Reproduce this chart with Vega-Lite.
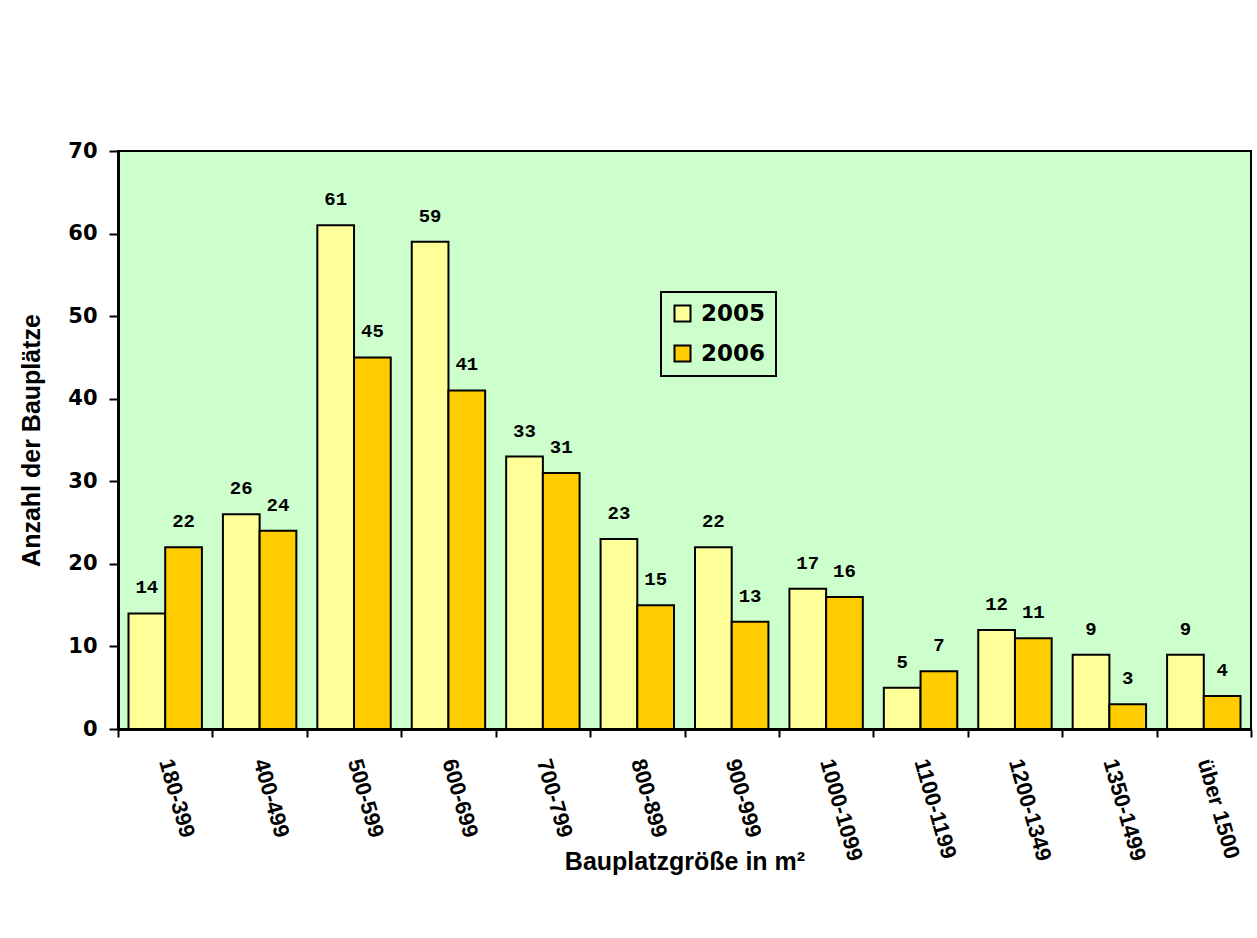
{
  "$schema": "https://vega.github.io/schema/vega-lite/v6.json",
  "autosize": {"type": "none"},
  "width": 1133,
  "height": 578,
  "padding": {"left": 118, "top": 151, "right": 6, "bottom": 209},
  "background": "white",
  "data": {
    "values": [
      {"groesse": "180-399", "jahr": "2005", "anzahl": 14},
      {"groesse": "180-399", "jahr": "2006", "anzahl": 22},
      {"groesse": "400-499", "jahr": "2005", "anzahl": 26},
      {"groesse": "400-499", "jahr": "2006", "anzahl": 24},
      {"groesse": "500-599", "jahr": "2005", "anzahl": 61},
      {"groesse": "500-599", "jahr": "2006", "anzahl": 45},
      {"groesse": "600-699", "jahr": "2005", "anzahl": 59},
      {"groesse": "600-699", "jahr": "2006", "anzahl": 41},
      {"groesse": "700-799", "jahr": "2005", "anzahl": 33},
      {"groesse": "700-799", "jahr": "2006", "anzahl": 31},
      {"groesse": "800-899", "jahr": "2005", "anzahl": 23},
      {"groesse": "800-899", "jahr": "2006", "anzahl": 15},
      {"groesse": "900-999", "jahr": "2005", "anzahl": 22},
      {"groesse": "900-999", "jahr": "2006", "anzahl": 13},
      {"groesse": "1000-1099", "jahr": "2005", "anzahl": 17},
      {"groesse": "1000-1099", "jahr": "2006", "anzahl": 16},
      {"groesse": "1100-1199", "jahr": "2005", "anzahl": 5},
      {"groesse": "1100-1199", "jahr": "2006", "anzahl": 7},
      {"groesse": "1200-1349", "jahr": "2005", "anzahl": 12},
      {"groesse": "1200-1349", "jahr": "2006", "anzahl": 11},
      {"groesse": "1350-1499", "jahr": "2005", "anzahl": 9},
      {"groesse": "1350-1499", "jahr": "2006", "anzahl": 3},
      {"groesse": "über 1500", "jahr": "2005", "anzahl": 9},
      {"groesse": "über 1500", "jahr": "2006", "anzahl": 4}
    ]
  },
  "encoding": {
    "x": {
      "field": "groesse",
      "type": "nominal",
      "sort": null,
      "scale": {"paddingInner": 0, "paddingOuter": 0},
      "axis": {
        "title": "Bauplatzgröße in m²",
        "titleFont": "Liberation Sans",
        "titleFontWeight": "bold",
        "titleFontSize": 25,
        "titleColor": "black",
        "titleBaseline": "middle",
        "titleY": 132,
        "labelAngle": 74,
        "labelAlign": "left",
        "labelBaseline": "middle",
        "labelFont": "Liberation Sans",
        "labelFontWeight": "bold",
        "labelFontSize": 22,
        "labelColor": "black",
        "labelPadding": 22,
        "tickBand": "extent",
        "tickSize": 8,
        "tickWidth": 2,
        "tickColor": "black",
        "domainColor": "black",
        "domainWidth": 3,
        "grid": false
      }
    },
    "xOffset": {
      "field": "jahr",
      "type": "nominal",
      "scale": {"paddingInner": 0, "paddingOuter": 0.286}
    },
    "y": {
      "field": "anzahl",
      "type": "quantitative",
      "scale": {"domain": [0, 70], "nice": false},
      "axis": {
        "title": "Anzahl der Bauplätze",
        "titleFont": "Liberation Sans",
        "titleFontWeight": "bold",
        "titleFontSize": 25,
        "titleColor": "black",
        "titleX": -87,
        "titleY": 289,
        "titleBaseline": "middle",
        "values": [0, 10, 20, 30, 40, 50, 60, 70],
        "labelFont": "DejaVu Sans",
        "labelFontWeight": "bold",
        "labelFontSize": 21,
        "labelColor": "black",
        "labelPadding": 12,
        "tickSize": 9,
        "tickWidth": 2,
        "tickColor": "black",
        "domainColor": "black",
        "domainWidth": 3,
        "grid": false
      }
    }
  },
  "layer": [
    {
      "mark": {"type": "bar", "stroke": "black", "strokeWidth": 2},
      "encoding": {
        "color": {
          "field": "jahr",
          "type": "nominal",
          "scale": {"domain": ["2005", "2006"], "range": ["#FFFF99", "#FFCC00"]},
          "legend": {
            "orient": "none",
            "legendX": 543,
            "legendY": 141,
            "title": null,
            "symbolType": "square",
            "symbolSize": 256,
            "symbolStrokeColor": "black",
            "symbolStrokeWidth": 2,
            "symbolOpacity": 1,
            "labelFont": "DejaVu Sans",
            "labelFontWeight": "bold",
            "labelFontSize": 23,
            "labelColor": "black",
            "labelOffset": 7,
            "rowPadding": 15,
            "padding": 10,
            "strokeColor": "black",
            "fillColor": "#CCFFCC"
          }
        }
      }
    },
    {
      "mark": {
        "type": "text",
        "font": "Liberation Mono",
        "fontWeight": "bold",
        "fontSize": 19,
        "baseline": "alphabetic",
        "dy": -20,
        "color": "black"
      },
      "encoding": {
        "text": {"field": "anzahl", "type": "quantitative"}
      }
    }
  ],
  "config": {
    "view": {"fill": "#CCFFCC", "stroke": "black", "strokeWidth": 2},
    "legend": {"strokeWidth": 2}
  }
}
